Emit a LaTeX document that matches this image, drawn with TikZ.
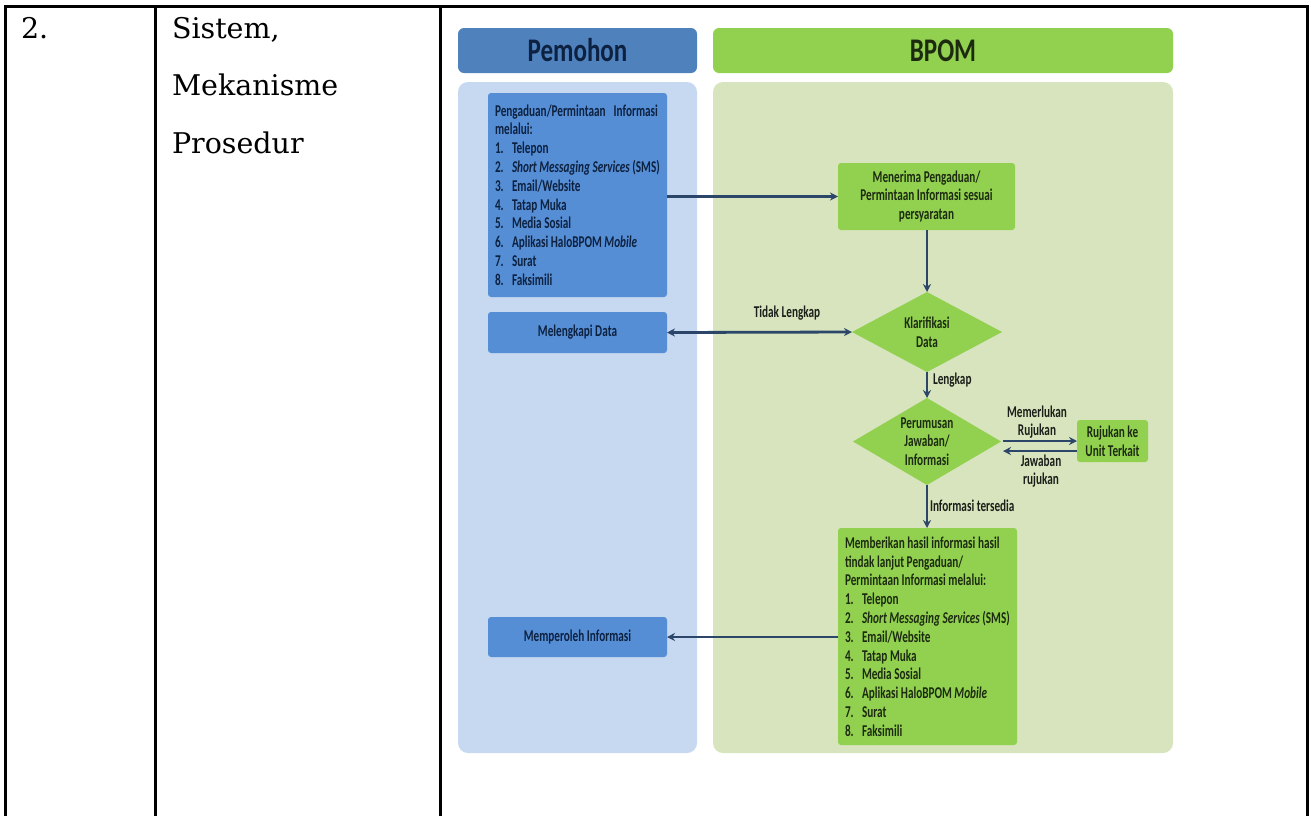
\documentclass[tikz,border=0pt]{standalone}
\usepackage{fontspec}
\setmainfont{DejaVu Serif}
\newfontfamily\cf[FakeStretch=0.68]{Carlito}
\newfontfamily\cfh[FakeStretch=0.76]{Carlito}
\usetikzlibrary{shapes.geometric,arrows.meta}
\definecolor{lanebl}{HTML}{C6D9F0}
\definecolor{lanegr}{HTML}{D7E4BD}
\definecolor{hdrbl}{HTML}{4F81BD}
\definecolor{boxbl}{HTML}{558ED5}
\definecolor{boxgr}{HTML}{92D050}
\definecolor{arrc}{HTML}{2B4668}
\definecolor{txbl}{HTML}{0D2140}
\definecolor{txgr}{HTML}{1C2B10}
\definecolor{txlb}{HTML}{1A1F1A}
\newcommand\itm[1]{\makebox[17pt][l]{#1}}
\begin{document}
\begin{tikzpicture}[x=1pt,y=-1pt,
  every node/.style={inner sep=0pt, outer sep=0pt},
  tline/.style={line width=3pt, line cap=rect},
  ttext/.style={anchor=base west, font=\fontsize{28.5}{34}\selectfont},
  lanebg/.style={rounded corners=10pt, draw=none},
  hdr/.style={rounded corners=6pt, minimum height=45, font=\cfh\bfseries\fontsize{33}{36}\selectfont},
  small/.style={font=\cf\bfseries\fontsize{16.5}{18.8}\selectfont},
  bbox/.style={small, rounded corners=3pt, fill=boxbl, text=txbl},
  gbox/.style={small, rounded corners=3pt, fill=boxgr, text=txgr},
  dia/.style={small, diamond, fill=boxgr, text=txgr, align=center},
  lbl/.style={small, text=txlb, align=center},
  arr/.style={draw=arrc, line width=2.8pt, -{Stealth[length=8pt,width=8pt]}},
  darr/.style={draw=arrc, line width=2.8pt, {Stealth[length=8pt,width=8pt]}-{Stealth[length=8pt,width=8pt]}}
]
\useasboundingbox (0,0) rectangle (1311,815);
% table frame
\draw[tline] (5.5,6.5) -- (1307.5,6.5);
\draw[tline] (5.5,6.5) -- (5.5,815);
\draw[tline] (155.5,6.5) -- (155.5,815);
\draw[tline] (440,6.5) -- (440,815);
\draw[tline] (1307.5,6.5) -- (1307.5,815);
% table texts
\node[ttext] (no) at (21,38) {2.};
\node[ttext] (t1) at (172,38) {Sistem,};
\node[ttext] (t2) at (172,95.5) {Mekanisme};
\node[ttext] (t3) at (172,153) {Prosedur};
% lanes
\node[lanebg, fill=lanebl, minimum width=239, minimum height=671] (lanep) at (577.5,417.5) {};
\node[lanebg, fill=lanegr, minimum width=460, minimum height=671] (laneb) at (943,417.5) {};
\node[hdr, fill=hdrbl, minimum width=239, text=txbl] (hp) at (577.5,50.5) {Pemohon};
\node[hdr, fill=boxgr, minimum width=460, text=txgr] (hb) at (943,50.5) {BPOM};
% boxes
\node[bbox, minimum width=179, minimum height=204, text width=165, align=flush left] (peng) at (577.5,195)
  {\mbox{Pengaduan/Permintaan\hspace{8pt}Informasi}\\
   melalui:\\
   \itm{1.}Telepon\\
   \mbox{\itm{2.}\textit{Short Messaging Services} (SMS)}\\
   \itm{3.}Email/Website\\
   \itm{4.}Tatap Muka\\
   \itm{5.}Media Sosial\\
   \mbox{\itm{6.}Aplikasi HaloBPOM \textit{Mobile}}\\
   \itm{7.}Surat\\
   \itm{8.}Faksimili};
\node[bbox, minimum width=179, minimum height=41] (mel) at (577.5,332.5) {Melengkapi Data};
\node[bbox, minimum width=179, minimum height=40] (mper) at (577.5,637) {Memperoleh Informasi};
\node[gbox, minimum width=177, minimum height=67, align=center] (men) at (926.5,196.5)
  {Menerima Pengaduan/\\Permintaan Informasi sesuai\\persyaratan};
\node[dia, minimum width=150, minimum height=80, aspect=1.87] (kla) at (927,332) {Klarifikasi\\Data};
\node[dia, minimum width=148, minimum height=87, aspect=1.7, inner sep=-6pt] (per) at (927,441.5) {Perumusan\\Jawaban/\\Informasi};
\node[gbox, minimum width=71, minimum height=42, align=center] (ruj) at (1112.5,441) {Rujukan ke\\Unit Terkait};
\node[gbox, minimum width=179, minimum height=217, text width=165, align=flush left] (mem) at (927.5,636.5)
  {\mbox{Memberikan hasil informasi hasil}\\
   \mbox{tindak lanjut Pengaduan/}\\
   \mbox{Permintaan Informasi melalui:}\\
   \itm{1.}Telepon\\
   \mbox{\itm{2.}\textit{Short Messaging Services} (SMS)}\\
   \itm{3.}Email/Website\\
   \itm{4.}Tatap Muka\\
   \itm{5.}Media Sosial\\
   \mbox{\itm{6.}Aplikasi HaloBPOM \textit{Mobile}}\\
   \itm{7.}Surat\\
   \itm{8.}Faksimili};
% connectors
\draw[arr] (peng.east |- men.west) -- (men.west);
\draw[arr] (men.south -| kla.north) -- (kla.north);
\draw[darr] (mel.east) -- (kla.west);
\node[lbl] (ltl) at (787,313) {Tidak Lengkap};
\draw[arr] (kla.south) -- (per.north);
\node[lbl, anchor=west] (llk) at (933,380) {Lengkap};
\coordinate (m1) at (1003,441);
\coordinate (m2) at (1003,451);
\draw[arr] (m1) -- (m1 -| ruj.west);
\draw[arr] (m2 -| ruj.west) -- (m2);
\node[lbl] (lmr) at (1037,422) {Memerlukan\\Rujukan};
\node[lbl] (ljr) at (1041,471) {Jawaban\\rujukan};
\draw[arr] (per.south) -- (per.south |- mem.north);
\node[lbl, anchor=west] (lit) at (930,506) {Informasi tersedia};
\draw[arr] (mper.east -| mem.west) -- (mper.east);
\end{tikzpicture}
\end{document}
